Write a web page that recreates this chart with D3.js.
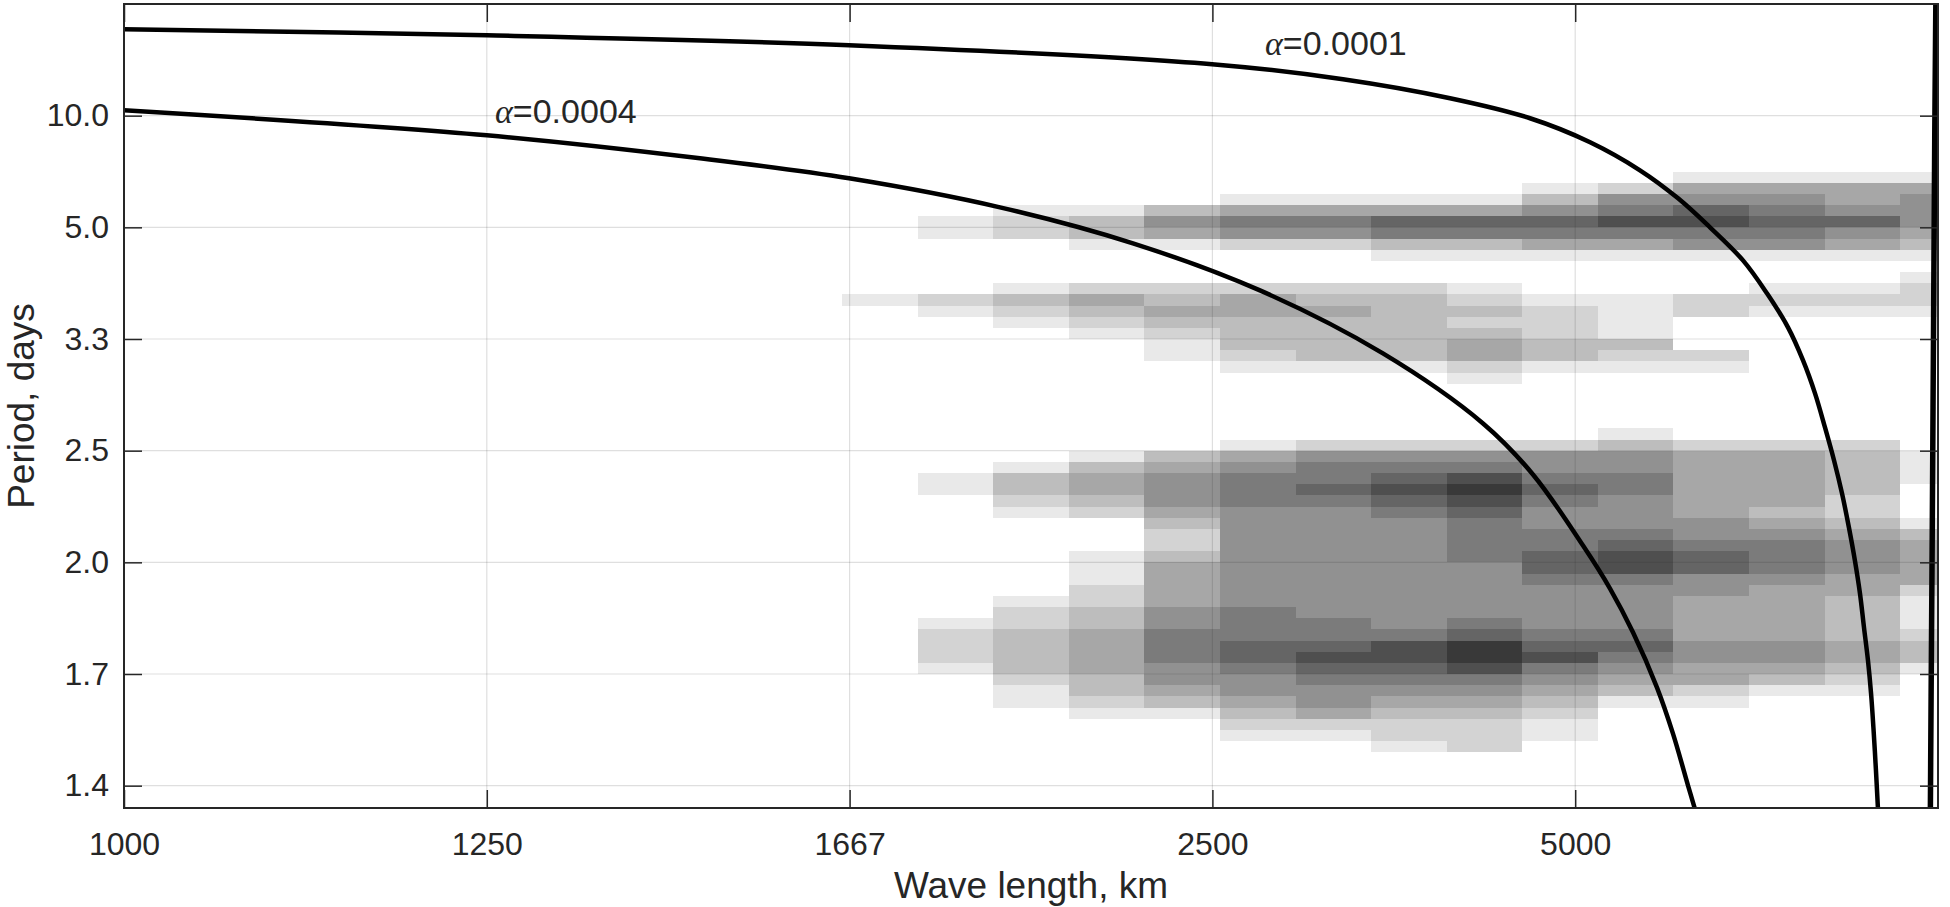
<!DOCTYPE html>
<html>
<head>
<meta charset="utf-8">
<script src="https://cdn.jsdelivr.net/npm/d3@7"></script>
<style>
  body { margin: 0; background: #fff; }
  svg { display: block; font-family: 'Liberation Sans', Arial, sans-serif; }
</style>
</head>
<body>
<div id="chart"></div>
<script>
// wavenumber k in units of 1e-4 1/km (x axis runs from 1000 km to infinity)
// frequency f in cycles per day (y axis is shown as period = 1/f)
var xTickK = [10, 8, 6, 4, 2];
var xTickLabels = ['1000', '1250', '1667', '2500', '5000'];
var yTickF = [0.1, 0.2, 0.3, 0.4, 0.5, 0.6, 0.7];
var yTickLabels = ['10.0', '5.0', '3.3', '2.5', '2.0', '1.7', '1.4'];

// spectrum cells: zonal wavenumber n on a 24000 km circle, rows of 0.01 cpd from 0.15
var circleKm = 24000;
var freqStart = 0.15;
var freqStep = 0.01;
// one string per wavenumber n = 0..14, one digit (0-9 shade level) per frequency row
var cellLevels = [
  '1455543101 2210000000 0000011100 0134444211 1233100000 00000',
  '1445754100 1210000000 0000233332 2345554433 3344321000 00000',
  '1456765100 1210000000 0000244444 3456665444 4455431000 00000',
  '1457865100 0220002100 0000244444 4556775544 4455442100 00000',
  '0256864100 0111132100 0001355665 5567886555 5676543100 00000',
  '0135764100 0122233100 0000255676 5566776555 5678654321 10000',
  '0014763100 1232344210 0000256898 7666655555 6799865432 22000',
  '0014763100 2333333100 0000256787 6555555555 5688765432 21000',
  '0014652000 2343333100 0000256676 5555555555 6678765542 10000',
  '0014652000 2443332100 0000145666 5555555556 6677655432 10000',
  '0003541000 2343211000 0000034555 4322344445 5666554310 00000',
  '0001331000 2432100000 0000013443 2000111223 3444433210 00000',
  '0001220000 1321000000 0000001332 1000000012 2333321100 00000',
  '0000110000 0210000000 0000000110 0000000000 1222100000 00000',
  '0000000000 0100000000 0000000000 0000000000 0000000000 00000'
];

// dispersion curves
var alpha1Label = '=0.0001';
var alpha1K = [10, 8, 6.003, 4.002, 3.28, 2.69, 2.249, 1.918, 1.643, 1.433, 1.257, 1.075, 0.943, 0.827, 0.744, 0.678, 0.623, 0.573, 0.529, 0.491, 0.458, 0.43, 0.408, 0.386, 0.369, 0.356, 0.342, 0.331];
var alpha1F = [0.0226, 0.028, 0.0369, 0.0539, 0.0674, 0.0844, 0.1023, 0.1238, 0.1489, 0.174, 0.2, 0.2296, 0.2591, 0.2896, 0.3192, 0.3487, 0.3792, 0.4088, 0.4384, 0.4688, 0.4984, 0.528, 0.5584, 0.588, 0.6176, 0.648, 0.6866, 0.7206];

var alpha4Label = '=0.0004';
var alpha4K = [10, 8, 6.825, 6.003, 5.171, 4.438, 3.738, 3.06, 2.508, 2.233, 1.957, 1.808, 1.681, 1.549, 1.461, 1.378, 1.334];
var alpha4F = [0.0952, 0.1176, 0.1382, 0.1561, 0.1821, 0.2143, 0.2565, 0.3129, 0.3756, 0.4213, 0.485, 0.5235, 0.5629, 0.6122, 0.6534, 0.6999, 0.7242];

var edgeK = [0.012, 0.018, 0.025, 0.032, 0.038, 0.042];
var edgeF = [0.0, 0.12, 0.3, 0.48, 0.62, 0.72];

var svgWidth = 1950;
var svgHeight = 907;

var chartMargin = {
    top: 4,
    right: 12,
    bottom: 99,
    left: 124
};

var chartWidth = svgWidth - chartMargin.left - chartMargin.right;
var chartHeight = svgHeight - chartMargin.top - chartMargin.bottom;

var svg = d3.select('#chart')
    .append('svg')
    .attr('width', svgWidth)
    .attr('height', svgHeight);

svg.append('rect').attr('width', svgWidth).attr('height', svgHeight).attr('fill', '#fff');

var chartGroup = svg.append('g')
    .attr('transform', `translate(${chartMargin.left}, ${chartMargin.top})`);

var xScale = d3.scaleLinear().domain([10, 0]).range([0, chartWidth]);
var yScale = d3.scaleLinear().domain([0, 0.72]).range([0, chartHeight]);

var shade = d3.scaleLinear().domain([0, 9]).range(['#ffffff', '#393939']);

chartGroup.append('clipPath').attr('id', 'plotClip')
    .append('rect').attr('width', chartWidth).attr('height', chartHeight);

// build the cell table
var dk = 1e4 / circleKm;
var cells = [];
cellLevels.forEach(function(str, n) {
    var digits = str.replace(/ /g, '');
    for (var i = 0; i < digits.length; i++) {
        var lev = +digits[i];
        if (lev > 0) cells.push({ n: n, f: freqStart + i * freqStep, level: lev });
    }
});

chartGroup.append('g')
    .attr('clip-path', 'url(#plotClip)')
    .selectAll('rect')
    .data(cells)
    .enter()
    .append('rect')
    .attr('x', d => xScale(d.n * dk + dk / 2))
    .attr('width', d => xScale(d.n * dk - dk / 2) - xScale(d.n * dk + dk / 2))
    .attr('y', d => yScale(d.f))
    .attr('height', d => yScale(d.f + freqStep) - yScale(d.f))
    .attr('fill', d => shade(d.level))
    .attr('shape-rendering', 'crispEdges');

// grid lines
var grid = chartGroup.append('g').attr('stroke', '#262626').attr('stroke-opacity', 0.15).attr('stroke-width', 1.2);
grid.selectAll('.vgrid').data(xTickK).enter().append('line')
    .attr('x1', d => xScale(d)).attr('x2', d => xScale(d))
    .attr('y1', 0).attr('y2', chartHeight);
grid.selectAll('.hgrid').data(yTickF).enter().append('line')
    .attr('y1', d => yScale(d)).attr('y2', d => yScale(d))
    .attr('x1', 0).attr('x2', chartWidth);

// curves
var line = d3.line()
    .x(d => xScale(d[0]))
    .y(d => yScale(d[1]))
    .curve(d3.curveCatmullRom.alpha(0.5));

var curves = [
    d3.zip(alpha1K, alpha1F),
    d3.zip(alpha4K, alpha4F),
    d3.zip(edgeK, edgeF)
];

chartGroup.append('g')
    .attr('clip-path', 'url(#plotClip)')
    .selectAll('path')
    .data(curves)
    .enter()
    .append('path')
    .attr('d', line)
    .attr('fill', 'none')
    .attr('stroke', '#000')
    .attr('stroke-width', (d, i) => i == 2 ? 5.5 : 4.5);

// axes with inward ticks on all four sides
var bottomAxis = d3.axisBottom(xScale).tickValues(xTickK)
    .tickFormat((d, i) => xTickLabels[i]).tickSizeInner(-18).tickSizeOuter(0).tickPadding(24);
var topAxis = d3.axisTop(xScale).tickValues(xTickK)
    .tickFormat('').tickSizeInner(-18).tickSizeOuter(0);
var leftAxis = d3.axisLeft(yScale).tickValues(yTickF)
    .tickFormat((d, i) => yTickLabels[i]).tickSizeInner(-18).tickSizeOuter(0).tickPadding(15);
var rightAxis = d3.axisRight(yScale).tickValues(yTickF)
    .tickFormat('').tickSizeInner(-18).tickSizeOuter(0);

function styleAxis(g) {
    g.select('.domain').remove();
    g.attr('font-size', 32).attr('font-family', "'Liberation Sans', Arial, sans-serif");
    g.selectAll('.tick line').attr('stroke', '#262626').attr('stroke-width', 1.5);
    g.selectAll('.tick text').attr('fill', '#262626');
}

chartGroup.append('g').attr('transform', `translate(0,${chartHeight})`).call(bottomAxis).call(styleAxis);
chartGroup.append('g').call(topAxis).call(styleAxis);
chartGroup.append('g').call(leftAxis).call(styleAxis);
chartGroup.append('g').attr('transform', `translate(${chartWidth},0)`).call(rightAxis).call(styleAxis);

chartGroup.append('rect')
    .attr('width', chartWidth).attr('height', chartHeight)
    .attr('fill', 'none').attr('stroke', '#262626').attr('stroke-width', 2);

// curve labels
function alphaLabel(x, y, rest) {
    var t = chartGroup.append('text')
        .attr('x', x).attr('y', y)
        .attr('font-size', 34).attr('fill', '#262626');
    t.append('tspan').attr('font-family', "'Liberation Serif', 'DejaVu Serif', serif")
        .attr('font-style', 'italic').text('\u03b1');
    t.append('tspan').text(rest);
}
alphaLabel(371, 119, alpha4Label);
alphaLabel(1141, 51, alpha1Label);

// axis titles
svg.append('text')
    .attr('x', chartMargin.left + chartWidth / 2)
    .attr('y', 898)
    .attr('text-anchor', 'middle')
    .attr('font-size', 37)
    .attr('fill', '#262626')
    .text('Wave length, km');

svg.append('text')
    .attr('transform', `translate(34, ${chartMargin.top + chartHeight / 2}) rotate(-90)`)
    .attr('text-anchor', 'middle')
    .attr('font-size', 37)
    .attr('fill', '#262626')
    .text('Period, days');
</script>
</body>
</html>
